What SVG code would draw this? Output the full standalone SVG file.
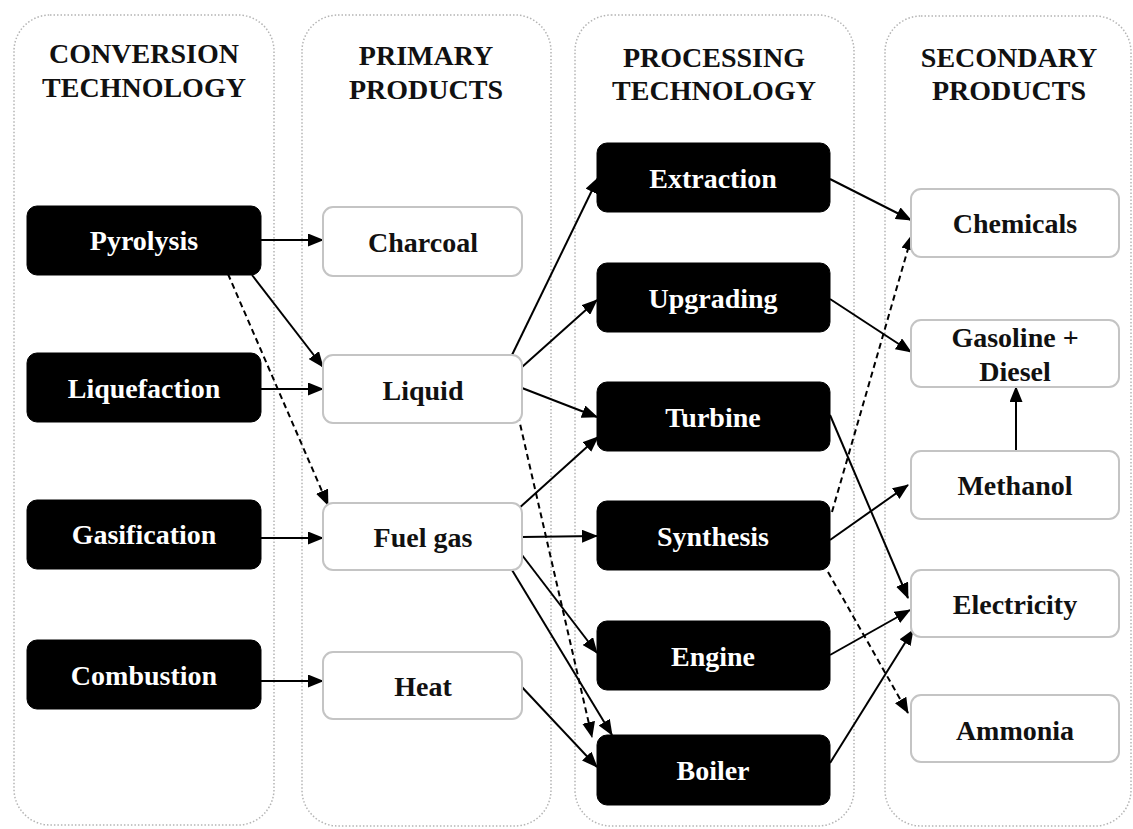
<svg xmlns="http://www.w3.org/2000/svg" width="1133" height="829" viewBox="0 0 1133 829">
<defs>
<marker id="ah" markerUnits="userSpaceOnUse" markerWidth="16" markerHeight="13" refX="15" refY="6.5" orient="auto">
<path d="M0,0 L16,6.5 L0,13 z" fill="#000"/>
</marker>
<style>
.lane{fill:#fff;stroke:#b4b4b4;stroke-width:1.5;stroke-dasharray:1.5,2;}
.hd{font-family:"Liberation Serif","Times New Roman",serif;font-weight:bold;font-size:28px;fill:#111;text-anchor:middle;}
.blk{fill:#000;stroke:#000;stroke-width:1;}
.wht{fill:#fff;stroke:#c4c4c4;stroke-width:2;}
.tw{font-family:"Liberation Serif","Times New Roman",serif;font-weight:bold;font-size:28px;fill:#fff;text-anchor:middle;}
.tb{font-family:"Liberation Serif","Times New Roman",serif;font-weight:bold;font-size:28px;fill:#111;text-anchor:middle;}
.c{stroke:#000;stroke-width:2;fill:none;marker-end:url(#ah);}
.d{stroke-dasharray:6,4;}
</style>
</defs>
<g id="lanes">
<rect class="lane" x="14" y="15" width="260" height="810" rx="36"/>
<rect class="lane" x="302" y="15" width="249" height="811" rx="36"/>
<rect class="lane" x="575" y="15" width="279" height="811" rx="36"/>
<rect class="lane" x="885" y="16" width="246" height="810" rx="36"/>
<text class="hd" x="144" y="63">CONVERSION</text>
<text class="hd" x="144" y="97">TECHNOLOGY</text>
<text class="hd" x="426" y="65">PRIMARY</text>
<text class="hd" x="426" y="99">PRODUCTS</text>
<text class="hd" x="714" y="67">PROCESSING</text>
<text class="hd" x="714" y="100">TECHNOLOGY</text>
<text class="hd" x="1009" y="67">SECONDARY</text>
<text class="hd" x="1009" y="100">PRODUCTS</text>
</g>
<g id="connectors">
<line class="c" x1="261" y1="240" x2="323" y2="240"/>
<line class="c" x1="252" y1="275" x2="323" y2="367"/>
<line class="c d" x1="228" y1="274" x2="328" y2="505"/>
<line class="c" x1="261" y1="389" x2="323" y2="389"/>
<line class="c" x1="261" y1="538" x2="323" y2="538"/>
<line class="c" x1="261" y1="681" x2="323" y2="681"/>
<line class="c" x1="512" y1="355" x2="598" y2="178"/>
<line class="c" x1="522" y1="367" x2="597" y2="300"/>
<line class="c" x1="522" y1="388" x2="597" y2="417"/>
<line class="c d" x1="518" y1="415" x2="592" y2="737"/>
<line class="c" x1="517" y1="510" x2="598" y2="437"/>
<line class="c" x1="522" y1="537" x2="597" y2="536"/>
<line class="c" x1="522" y1="555" x2="597" y2="653"/>
<line class="c" x1="512" y1="570" x2="612" y2="735"/>
<line class="c" x1="520" y1="685" x2="597" y2="767"/>
<line class="c" x1="830" y1="179" x2="911" y2="220"/>
<line class="c" x1="830" y1="299" x2="911" y2="352"/>
<line class="c" x1="830" y1="415" x2="908" y2="598"/>
<line class="c d" x1="832" y1="512" x2="912" y2="235"/>
<line class="c" x1="830" y1="540" x2="908" y2="485"/>
<line class="c d" x1="828" y1="572" x2="908" y2="713"/>
<line class="c" x1="830" y1="655" x2="910" y2="610"/>
<line class="c" x1="830" y1="763" x2="913" y2="630"/>
<line class="c" x1="1016" y1="451" x2="1016" y2="387"/>
</g>
<g id="pyrolysis"><rect class="blk" x="27" y="206" width="234" height="69" rx="10"/><text class="tw" x="144" y="250">Pyrolysis</text></g>
<g id="liquefaction"><rect class="blk" x="27" y="353" width="234" height="69" rx="10"/><text class="tw" x="144" y="398">Liquefaction</text></g>
<g id="gasification"><rect class="blk" x="27" y="500" width="234" height="69" rx="10"/><text class="tw" x="144" y="544">Gasification</text></g>
<g id="combustion"><rect class="blk" x="27" y="640" width="234" height="69" rx="10"/><text class="tw" x="144" y="685">Combustion</text></g>
<g id="charcoal"><rect class="wht" x="323" y="207" width="199" height="69" rx="10"/><text class="tb" x="423" y="252">Charcoal</text></g>
<g id="liquid"><rect class="wht" x="323" y="355" width="199" height="68" rx="10"/><text class="tb" x="423" y="400">Liquid</text></g>
<g id="fuelgas"><rect class="wht" x="323" y="503" width="199" height="67" rx="10"/><text class="tb" x="423" y="547">Fuel gas</text></g>
<g id="heat"><rect class="wht" x="323" y="652" width="199" height="67" rx="10"/><text class="tb" x="423" y="696">Heat</text></g>
<g id="extraction"><rect class="blk" x="597" y="143" width="233" height="69" rx="10"/><text class="tw" x="713" y="188">Extraction</text></g>
<g id="upgrading"><rect class="blk" x="597" y="263" width="233" height="69" rx="10"/><text class="tw" x="713" y="308">Upgrading</text></g>
<g id="turbine"><rect class="blk" x="597" y="382" width="233" height="69" rx="10"/><text class="tw" x="713" y="427">Turbine</text></g>
<g id="synthesis"><rect class="blk" x="597" y="501" width="233" height="69" rx="10"/><text class="tw" x="713" y="546">Synthesis</text></g>
<g id="engine"><rect class="blk" x="597" y="621" width="233" height="69" rx="10"/><text class="tw" x="713" y="666">Engine</text></g>
<g id="boiler"><rect class="blk" x="597" y="735" width="233" height="70" rx="10"/><text class="tw" x="713" y="780">Boiler</text></g>
<g id="chemicals"><rect class="wht" x="911" y="189" width="208" height="68" rx="10"/><text class="tb" x="1015" y="233">Chemicals</text></g>
<g id="gasoline"><rect class="wht" x="911" y="320" width="208" height="67" rx="10"/><text class="tb" x="1015" y="347">Gasoline +</text><text class="tb" x="1015" y="381">Diesel</text></g>
<g id="methanol"><rect class="wht" x="911" y="451" width="208" height="68" rx="10"/><text class="tb" x="1015" y="495">Methanol</text></g>
<g id="electricity"><rect class="wht" x="911" y="570" width="208" height="67" rx="10"/><text class="tb" x="1015" y="614">Electricity</text></g>
<g id="ammonia"><rect class="wht" x="911" y="695" width="208" height="67" rx="10"/><text class="tb" x="1015" y="740">Ammonia</text></g>
</svg>
